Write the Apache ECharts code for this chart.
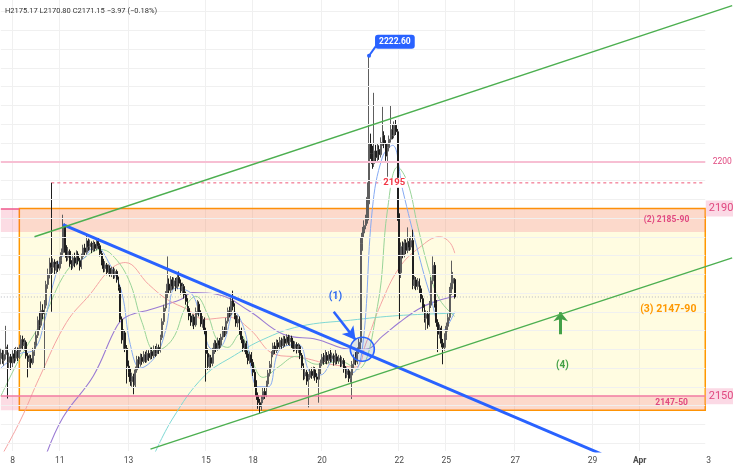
<!DOCTYPE html>
<html>
<head>
<meta charset="utf-8">
<script src="https://cdn.jsdelivr.net/npm/echarts@6.0.0/dist/echarts.min.js"></script>
<style>
html,body{margin:0;padding:0;background:#ffffff;}
#chart{width:733px;height:465px;}
</style>
</head>
<body>
<div id="chart"></div>
<script>
// ---------------- data ----------------
// hourly bars (UTC+7), index 0 = Thu 7 Mar 17:00
const tickBars   = [7, 35, 76, 122, 150, 191, 237, 265, 306, 352, 380, 421];
const tickLabels = ['8', '11', '13', '15', '18', '20', '22', '25', '27', '29', 'Apr', '3'];

// [open, close, low, high]
const candles = [
[2158.0,2159.2,2156.8,2160.1],[2159.2,2157.6,2156.9,2160.0],[2157.6,2158.9,2156.5,2159.8],[2158.9,2160.5,2157.8,2165.0],[2160.5,2157.2,2149.5,2161.0],
[2157.2,2158.4,2155.9,2159.3],[2158.4,2157.1,2155.6,2159.0],[2157.1,2159.0,2156.2,2159.8],[2159.0,2158.1,2157.0,2160.2],[2158.1,2159.6,2157.4,2160.5],
[2159.6,2158.3,2157.5,2160.4],[2158.3,2160.2,2157.9,2161.0],[2160.2,2162.1,2159.5,2163.0],[2162.1,2160.8,2159.9,2162.9],[2160.8,2161.5,2159.7,2162.4],
[2161.5,2158.6,2158.0,2161.9],[2158.6,2157.4,2154.0,2159.2],[2157.4,2158.0,2156.1,2158.9],[2158.0,2157.1,2155.8,2158.8],[2157.1,2159.5,2156.7,2160.3],
[2159.5,2160.8,2158.6,2161.6],[2160.8,2163.0,2160.1,2163.8],[2163.0,2166.2,2162.4,2167.0],[2166.2,2165.1,2163.9,2168.0],[2165.1,2168.3,2164.6,2170.2],
[2168.3,2167.6,2166.4,2169.6],[2167.6,2169.4,2155.7,2170.5],[2169.4,2173.8,2168.7,2174.6],[2173.8,2176.0,2172.9,2177.2],[2176.0,2178.4,2175.1,2179.5],
[2178.4,2177.5,2168.0,2195.5],[2177.5,2178.6,2176.3,2179.4],[2178.6,2176.9,2176.0,2179.2],[2176.9,2178.1,2176.2,2178.8],[2178.1,2177.3,2176.5,2178.9],
[2177.3,2178.9,2176.8,2179.7],[2178.9,2180.6,2178.2,2181.5],[2180.6,2186.2,2180.1,2188.7],[2186.2,2181.4,2180.6,2186.8],[2181.4,2179.6,2178.7,2182.2],
[2179.6,2180.9,2178.9,2181.8],[2180.9,2178.2,2177.6,2181.3],[2178.2,2177.8,2176.9,2179.0],[2177.8,2179.5,2177.2,2180.2],[2179.5,2178.4,2177.5,2180.6],
[2178.4,2180.3,2177.9,2181.1],[2180.3,2178.9,2178.1,2180.9],[2178.9,2177.6,2176.8,2179.5],[2177.6,2179.8,2177.1,2180.4],[2179.8,2181.6,2179.2,2182.3],
[2181.6,2180.7,2179.9,2182.5],[2180.7,2183.1,2180.2,2184.5],[2183.1,2181.9,2181.0,2183.6],[2181.9,2182.6,2181.2,2183.4],[2182.6,2181.2,2180.5,2183.0],
[2181.2,2182.4,2180.8,2183.2],[2182.4,2181.5,2180.9,2182.9],[2181.5,2183.0,2181.1,2183.7],[2183.0,2182.1,2181.4,2183.9],[2182.1,2180.4,2179.8,2182.6],
[2180.4,2178.6,2177.9,2181.0],[2178.6,2177.2,2176.4,2179.3],[2177.2,2178.0,2176.5,2178.8],[2178.0,2176.4,2175.8,2178.4],[2176.4,2177.3,2175.9,2178.1],
[2177.3,2176.1,2175.5,2177.9],[2176.1,2177.0,2175.4,2177.6],[2177.0,2175.8,2175.0,2177.5],[2175.8,2176.6,2175.1,2177.2],[2176.6,2174.9,2174.2,2177.0],
[2174.9,2173.2,2172.5,2175.5],[2173.2,2166.4,2165.8,2173.8],[2166.4,2162.0,2161.2,2167.0],[2162.0,2163.5,2160.1,2164.3],[2163.5,2160.2,2159.4,2164.0],
[2160.2,2156.4,2152.7,2160.9],[2156.4,2155.0,2154.1,2157.6],[2155.0,2153.1,2152.2,2155.8],[2153.1,2154.2,2152.0,2155.0],[2154.2,2152.4,2150.4,2154.8],
[2152.4,2155.6,2151.9,2156.3],[2155.6,2157.8,2155.0,2158.6],[2157.8,2156.9,2156.0,2158.5],[2156.9,2158.3,2156.3,2159.1],[2158.3,2157.4,2156.7,2159.0],
[2157.4,2158.9,2157.0,2159.6],[2158.9,2157.7,2157.1,2159.5],[2157.7,2159.1,2157.2,2159.9],[2159.1,2158.2,2157.5,2159.8],[2158.2,2159.5,2157.8,2160.3],
[2159.5,2158.6,2157.9,2160.4],[2158.6,2160.0,2158.1,2160.8],[2160.0,2159.1,2158.4,2160.7],[2159.1,2160.4,2158.6,2161.2],[2160.4,2159.8,2159.0,2161.0],
[2159.8,2162.5,2159.3,2163.1],[2162.5,2165.9,2162.0,2166.6],[2165.9,2168.8,2165.2,2169.5],[2168.8,2171.6,2168.1,2172.4],[2171.6,2173.9,2170.9,2179.8],
[2173.9,2172.6,2171.8,2175.1],[2172.6,2174.8,2172.0,2175.6],[2174.8,2173.5,2172.7,2175.4],[2173.5,2174.6,2172.9,2175.3],[2174.6,2173.2,2172.4,2175.2],
[2173.2,2175.3,2172.8,2176.0],[2175.3,2174.1,2173.4,2176.6],[2174.1,2172.5,2171.7,2174.9],[2172.5,2173.4,2171.9,2174.2],[2173.4,2171.6,2170.8,2173.9],
[2171.6,2170.2,2169.5,2172.3],[2170.2,2168.7,2168.0,2170.9],[2168.7,2167.1,2166.2,2169.2],[2167.1,2165.8,2165.0,2167.8],[2165.8,2166.9,2164.9,2167.5],
[2166.9,2165.2,2164.3,2167.4],[2165.2,2168.0,2164.8,2168.9],[2168.0,2169.6,2167.4,2170.5],[2169.6,2167.8,2167.0,2170.2],[2167.8,2165.4,2164.8,2168.3],
[2165.4,2166.3,2164.6,2167.1],[2166.3,2164.0,2163.2,2166.8],[2164.0,2159.1,2153.1,2164.6],[2159.1,2156.4,2155.6,2160.2],[2156.4,2158.2,2155.7,2158.9],
[2158.2,2157.0,2156.1,2158.8],[2157.0,2159.6,2156.4,2160.3],[2159.6,2161.3,2159.0,2162.0],[2161.3,2160.2,2159.4,2161.9],[2160.2,2161.8,2159.7,2162.5],
[2161.8,2160.9,2160.1,2162.4],[2160.9,2162.6,2160.3,2163.3],[2162.6,2164.1,2162.0,2164.9],[2164.1,2163.3,2162.6,2164.8],[2163.3,2166.0,2162.9,2166.7],
[2166.0,2168.2,2165.5,2168.9],[2168.2,2167.4,2166.8,2169.1],[2167.4,2170.3,2167.0,2171.0],[2170.3,2169.1,2168.3,2172.5],[2169.1,2167.2,2166.4,2169.8],
[2167.2,2165.6,2164.8,2167.9],[2165.6,2166.4,2164.7,2167.2],[2166.4,2163.9,2163.1,2167.0],[2163.9,2162.1,2161.3,2164.6],[2162.1,2160.3,2159.5,2162.8],
[2160.3,2161.2,2159.4,2161.9],[2161.2,2159.0,2158.2,2161.8],[2159.0,2157.6,2156.8,2159.7],[2157.6,2158.8,2156.9,2159.5],[2158.8,2157.2,2156.4,2159.4],
[2157.2,2155.1,2154.3,2157.9],[2155.1,2152.8,2151.9,2155.7],[2152.8,2150.1,2149.2,2153.4],[2150.1,2148.6,2147.3,2150.8],[2148.6,2147.8,2146.2,2149.4],
[2147.8,2149.3,2146.9,2150.1],[2149.3,2151.0,2148.5,2151.8],[2151.0,2150.2,2149.4,2151.9],[2150.2,2152.6,2149.8,2153.3],[2152.6,2154.9,2152.0,2155.6],
[2154.9,2156.8,2154.2,2157.5],[2156.8,2158.9,2156.1,2159.6],[2158.9,2160.7,2158.3,2161.4],[2160.7,2159.8,2159.0,2161.5],[2159.8,2161.4,2159.2,2162.1],
[2161.4,2160.5,2159.7,2162.0],[2160.5,2161.9,2159.9,2162.6],[2161.9,2160.8,2160.1,2162.5],[2160.8,2162.2,2160.3,2162.9],[2162.2,2161.3,2160.6,2162.8],
[2161.3,2162.6,2160.8,2163.2],[2162.6,2161.6,2160.9,2163.1],[2161.6,2162.4,2160.7,2163.0],[2162.4,2161.1,2160.3,2162.9],[2161.1,2160.2,2159.5,2161.8],
[2160.2,2161.0,2159.6,2161.7],[2161.0,2159.9,2159.1,2161.5],[2159.9,2160.6,2159.2,2161.3],[2160.6,2158.7,2157.9,2161.0],[2158.7,2156.5,2155.7,2159.2],
[2156.5,2154.3,2153.4,2157.0],[2154.3,2155.1,2153.6,2155.9],[2155.1,2153.2,2152.4,2155.6],[2153.2,2154.0,2147.6,2154.7],[2154.0,2155.3,2153.5,2156.0],
[2155.3,2154.4,2153.7,2156.1],[2154.4,2155.6,2153.8,2156.3],[2155.6,2154.1,2153.3,2156.2],[2154.1,2153.6,2152.8,2154.9],[2153.6,2155.2,2148.6,2155.9],
[2155.2,2157.0,2154.7,2157.8],[2157.0,2158.3,2156.4,2159.0],[2158.3,2157.4,2156.7,2159.2],[2157.4,2158.7,2156.9,2160.0],[2158.7,2157.6,2156.8,2159.4],
[2157.6,2158.9,2157.0,2159.6],[2158.9,2158.0,2157.2,2160.1],[2158.0,2158.6,2157.3,2159.3],[2158.6,2157.3,2156.5,2159.1],[2157.3,2158.4,2156.7,2160.0],
[2158.4,2157.5,2156.8,2159.1],[2157.5,2158.1,2156.9,2158.8],[2158.1,2156.9,2156.2,2158.7],[2156.9,2157.6,2156.3,2158.4],[2157.6,2155.8,2155.0,2158.1],
[2155.8,2154.6,2153.8,2156.4],[2154.6,2155.4,2153.9,2156.1],[2155.4,2153.8,2153.0,2156.0],[2153.8,2154.5,2152.9,2155.2],[2154.5,2156.8,2149.4,2157.5],
[2156.8,2158.2,2156.0,2158.9],[2158.2,2157.3,2156.6,2159.4],[2157.3,2159.6,2156.8,2160.4],[2159.6,2161.5,2159.0,2162.3],[2161.5,2182.6,2159.8,2183.9],
[2182.6,2184.8,2181.0,2186.1],[2184.8,2186.4,2183.9,2187.5],[2186.4,2187.7,2185.6,2188.7],[2187.7,2192.4,2186.8,2195.6],[2191.0,2203.9,2187.5,2222.6],
[2203.9,2201.8,2200.6,2206.0],[2201.8,2199.6,2198.5,2203.4],[2199.6,2202.3,2198.9,2214.7],[2202.3,2200.9,2199.8,2203.6],[2200.9,2202.6,2200.1,2204.0],
[2202.6,2201.5,2200.4,2203.5],[2201.5,2204.1,2200.9,2205.2],[2204.1,2205.6,2203.4,2211.7],[2205.6,2203.8,2202.9,2206.5],[2203.8,2201.2,2200.2,2204.6],
[2201.2,2203.0,2196.8,2203.9],[2203.0,2204.8,2202.2,2205.6],[2204.8,2206.9,2204.1,2212.1],[2206.9,2205.6,2204.8,2208.0],[2205.6,2207.8,2205.0,2208.6],
[2207.8,2206.4,2205.7,2208.9],[2206.4,2188.2,2187.4,2207.0],[2188.2,2176.3,2166.4,2189.0],[2176.3,2181.9,2175.2,2182.8],[2181.9,2180.2,2179.4,2183.0],
[2180.2,2182.7,2179.6,2183.5],[2182.7,2181.1,2180.3,2183.4],[2181.1,2183.0,2180.5,2186.0],[2183.0,2181.8,2181.0,2183.7],[2181.8,2183.2,2181.2,2184.1],
[2183.2,2173.6,2172.8,2185.5],[2173.6,2174.8,2172.9,2175.6],[2174.8,2173.4,2172.6,2175.4],[2173.4,2174.5,2172.7,2175.2],[2174.5,2172.9,2172.0,2175.1],
[2172.9,2170.8,2170.0,2173.6],[2170.8,2168.9,2168.0,2171.5],[2168.9,2166.6,2165.7,2169.6],[2166.6,2167.5,2163.9,2168.3],[2167.5,2165.2,2164.4,2168.1],
[2165.2,2169.4,2164.8,2170.3],[2169.4,2174.6,2168.8,2175.4],[2174.6,2177.9,2173.9,2179.8],[2177.9,2169.8,2168.9,2178.6],[2169.8,2165.7,2164.8,2170.5],
[2165.7,2163.2,2159.4,2166.4],[2163.2,2164.5,2162.3,2165.3],[2164.5,2161.3,2160.4,2165.0],[2161.3,2160.4,2156.8,2162.2],[2160.4,2162.6,2159.7,2163.4],
[2162.6,2164.9,2162.0,2165.7],[2164.9,2166.8,2163.8,2167.6],[2166.8,2172.4,2166.1,2173.3],[2172.4,2174.1,2171.6,2178.9],[2174.1,2175.12,2172.8,2176.5],
[2174.9,2171.15,2170.80,2175.17]
];

// moving averages: [bar, price]
const maTeal = [[90,2136.6],[102,2145.1],[121,2154.3],[139,2158.7],[156,2162.1],[178,2164.9],[208,2166.2],[237,2167.2],[270,2167.7]];
const maPurple = [[26,2136.6],[37,2145.5],[55,2154.3],[69,2164.9],[75,2167.0],[89,2168.5],[107,2170.6],[114,2172.1],[129,2171.7],[148,2168.1],[168,2163.2],[188,2162.1],[208,2160.0],[217,2160.0],[227,2162.8],[237,2165.7],[248,2168.5],[257,2170.0],[270,2171.3]];
const maPink = [[0,2137.0],[12,2145.1],[23,2154.0],[39,2165.7],[53,2171.7],[65,2177.0],[74,2178.5],[88,2173.8],[99,2170.6],[111,2168.5],[121,2166.4],[136,2166.8],[148,2164.3],[163,2158.9],[178,2158.3],[196,2156.8],[211,2156.2],[217,2161.1],[226,2169.6],[237,2177.4],[249,2181.7],[261,2184.0],[267,2182.8],[270,2180.5]];
const maGreen = [[0,2150.0],[11,2157.9],[25,2166.4],[39,2176.6],[50,2179.6],[59,2181.3],[66,2180.2],[76,2174.9],[84,2165.7],[92,2159.6],[102,2162.1],[110,2169.1],[116,2171.3],[123,2167.4],[129,2161.7],[135,2160.4],[142,2163.2],[149,2157.9],[156,2154.0],[165,2156.2],[176,2158.5],[188,2156.8],[202,2157.4],[212,2155.7],[224,2169.1],[230,2189.8],[236,2198.9],[242,2195.5],[248,2186.2],[255,2176.4],[261,2170.6],[270,2167.0]];
const maBlue = [[0,2156.0],[11,2159.0],[20,2160.0],[26,2166.0],[32,2175.0],[38,2180.0],[47,2179.0],[56,2182.0],[65,2178.0],[72,2172.0],[77,2161.0],[83,2156.0],[92,2158.5],[98,2164.0],[104,2173.0],[113,2172.0],[118,2168.0],[126,2160.0],[132,2161.0],[139,2168.0],[145,2164.0],[153,2152.0],[159,2152.0],[166,2160.0],[177,2161.0],[184,2155.0],[190,2154.5],[199,2158.0],[209,2155.0],[215,2160.0],[221,2190.0],[227,2201.0],[233,2203.5],[239,2194.0],[248,2181.0],[255,2172.0],[263,2164.0],[270,2168.0]];

// drawn trend lines: [bar, price]
const trendBlue = [[37,2186.6],[357,2137.7]];
const channelUpper = [[20,2184.0],[435,2233.3]];
const channelLower = [[89,2138.7],[435,2179.5]];

// horizontal levels / zones (prices)
const gridPrices = [2140,2144,2148,2152,2156,2160,2164,2168,2172,2176,2180,2184,2188,2192,2196,2200,2204,2208,2212,2216,2220,2224,2228,2232];
const level2200 = 2200;
const level2195 = 2195.5;
const lastClose = 2171.15;
const zone2 = [2185, 2190];
const zone3 = [2147, 2190];
const zone50 = [2147, 2150];
const spikeHigh = [219, 2222.6];
const calloutCorner = [223, 2224.6];

// annotations [bar, price]
const circlePt = [215, 2160.0];
const arrowBlue = [[198, 2168.0], [211, 2162.0]];
const arrowGreen = [[333, 2163.2], [333, 2167.9]];
const label1 = [199, 2171.3];
const label4 = [334, 2156.6];
const label2 = [396, 2187.6];
const label3 = [397, 2168.5];
const label50 = [399, 2148.5];
const label2195 = [234, 2195.5];

// ---------------- chart ----------------
const FONT = 'Roboto, "Noto Sans", "DejaVu Sans", sans-serif';
const N = 436;              // category slots across the full width
const LEFT = 0, RIGHT = 419, ZONE3_LEFT = 11, LEVEL2195_START = 30;
const categories = Array.from({length: N}, (_, i) => 'b' + i);
const isTick = i => tickBars.indexOf(i) >= 0;

function seg(a, b, style) { return [{coord: a, lineStyle: style}, {coord: b}]; }

const gridLineData = gridPrices.map(p => seg([LEFT, p], [RIGHT, p], {color: '#f0f0f0', width: 1, type: 'solid'}));

const pinkText = '#e0487f';
const hidden = {color: 'rgba(0,0,0,0)'};

const option = {
  animation: false,
  backgroundColor: '#ffffff',
  textStyle: {fontFamily: FONT},
  title: {
    text: 'H2175.17 L2170.80 C2171.15 \u22123.97 (\u22120.18%)',
    left: 0, top: 2,
    textStyle: {fontSize: 7.5, fontWeight: 'normal', color: '#333', fontFamily: FONT}
  },
  grid: {left: 0, right: 0, top: 0, bottom: 13, containLabel: false},
  xAxis: {
    type: 'category', data: categories, boundaryGap: true,
    axisLine: {show: false}, axisTick: {show: false},
    axisLabel: {
      interval: (i) => isTick(i), margin: 5, color: '#4a4a4a', fontSize: 8.5, fontFamily: FONT,
      formatter: (v) => { const i = +String(v).slice(1); const k = tickBars.indexOf(i); if (k < 0) return ''; const t = tickLabels[k]; return t === 'Apr' ? '{b|Apr}' : t; },
      rich: {b: {fontWeight: 'bold', fontSize: 8.5, color: '#4a4a4a', fontFamily: FONT}}
    },
    splitLine: {show: true, interval: (i) => isTick(i) && i < RIGHT, lineStyle: {color: '#f0f0f0', width: 1}}
  },
  yAxis: {type: 'value', min: 2138.3, max: 2234.5, show: false},
  series: [
    { // grid lines
      type: 'line', data: [], silent: true, z: 0,
      markLine: {silent: true, symbol: ['none', 'none'], label: {show: false}, animation: false, data: gridLineData}
    },
    { // zones
      type: 'line', data: [], silent: true, z: 1,
      markArea: {
        silent: true, animation: false,
        data: [
          [{xAxis: ZONE3_LEFT, yAxis: zone3[0], itemStyle: {color: 'rgba(255,236,80,0.17)', borderColor: '#ff9800', borderWidth: 1.5}}, {xAxis: RIGHT, yAxis: zone3[1]}],
          [{xAxis: LEFT, yAxis: zone2[0], itemStyle: {color: 'rgba(240,70,110,0.19)', borderWidth: 0}}, {xAxis: RIGHT, yAxis: zone2[1]}],
          [{xAxis: LEFT, yAxis: zone50[0], itemStyle: {color: 'rgba(240,70,110,0.19)', borderWidth: 0}}, {xAxis: RIGHT, yAxis: zone50[1]}]
        ]
      }
    },
    { // solid levels
      type: 'line', data: [], silent: true, z: 2,
      markLine: {
        silent: true, symbol: ['none', 'none'], label: {show: false}, animation: false,
        data: [
          seg([LEFT, level2200], [RIGHT, level2200], {color: '#f7bfd3', width: 2, type: 'solid'}),
          seg([LEFT, zone2[1]], [ZONE3_LEFT, zone2[1]], {color: '#ef5b8f', width: 1.5, type: 'solid'}),
          seg([LEFT, zone50[1]], [RIGHT, zone50[1]], {color: '#f27aa2', width: 1.5, type: 'solid'})
        ]
      }
    },
    { // dashed 2195 level
      type: 'line', data: [[LEVEL2195_START, level2195], [RIGHT, level2195]], showSymbol: false, silent: true, z: 2,
      lineStyle: {color: '#f2758f', width: 1.2, type: [3, 3]}
    },
    { // dotted last price
      type: 'line', data: [[LEFT, lastClose], [RIGHT, lastClose]], showSymbol: false, silent: true, z: 2,
      lineStyle: {color: '#b4b6bd', width: 1, type: [1, 2]}
    },
    {type: 'line', data: maTeal, smooth: 0.4, showSymbol: false, silent: true, z: 3, lineStyle: {color: '#7fd8d4', width: 1}},
    {type: 'line', data: maPurple, smooth: 0.4, showSymbol: false, silent: true, z: 3, lineStyle: {color: '#9a7bd4', width: 1.1}},
    {type: 'line', data: maPink, smooth: 0.4, showSymbol: false, silent: true, z: 3, lineStyle: {color: '#f4a3a3', width: 1}},
    {type: 'line', data: maGreen, smooth: 0.4, showSymbol: false, silent: true, z: 3, lineStyle: {color: '#98d398', width: 1}},
    {type: 'line', data: maBlue, smooth: 0.4, showSymbol: false, silent: true, z: 3, lineStyle: {color: '#86aaf3', width: 1}},
    {
      type: 'candlestick', data: candles, z: 4, silent: true, barWidth: '80%',
      itemStyle: {color: '#8c8c8c', color0: '#141414', borderColor: '#5e5e5e', borderColor0: '#1e1e1e', borderWidth: 1}
    },
    {type: 'line', data: trendBlue, showSymbol: false, silent: true, z: 5, lineStyle: {color: '#2962ff', width: 3}},
    {type: 'line', data: channelUpper, showSymbol: false, silent: true, z: 5, lineStyle: {color: '#4caf50', width: 1.4}},
    {type: 'line', data: channelLower, showSymbol: false, silent: true, z: 5, lineStyle: {color: '#4caf50', width: 1.4}},
    { // annotations
      type: 'line', data: [], silent: true, z: 6,
      markLine: {
        silent: true, animation: false, label: {show: false}, symbol: ['none', 'none'],
        data: [
          [{coord: arrowBlue[0], symbol: 'none', lineStyle: {color: '#2962ff', width: 2.5, type: 'solid'}}, {coord: arrowBlue[1], symbol: 'arrow', symbolSize: [11, 13]}],
          [{coord: arrowGreen[0], symbol: 'none', lineStyle: {color: '#43a047', width: 3, type: 'solid'}}, {coord: arrowGreen[1], symbol: 'arrow', symbolSize: [11, 9]}],
          [{coord: spikeHigh, symbol: 'none', lineStyle: {color: '#2962ff', width: 2, type: 'solid'}}, {coord: calloutCorner, symbol: 'none'}]
        ]
      },
      markPoint: {
        silent: true, animation: false,
        data: [
          {coord: circlePt, symbol: 'circle', symbolSize: 24, itemStyle: {color: 'rgba(41,98,255,0.14)', borderColor: '#2962ff', borderWidth: 1.6}, label: {show: false}},
          {coord: spikeHigh, symbol: 'circle', symbolSize: 4, itemStyle: {color: '#2962ff'},
           label: {show: true, formatter: '2222.60', position: [8, -19], color: '#fff', fontSize: 8.5, fontWeight: 'bold', backgroundColor: '#2962ff', padding: [3, 4, 2, 4], borderRadius: 3, fontFamily: FONT}},
          {coord: label1, symbol: 'circle', symbolSize: 1, itemStyle: hidden, label: {show: true, formatter: '(1)', color: '#2f6bf0', fontSize: 10.5, fontWeight: 'bold', fontFamily: FONT}},
          {coord: label4, symbol: 'circle', symbolSize: 1, itemStyle: hidden, label: {show: true, formatter: '(4)', color: '#43a047', fontSize: 10, fontWeight: 'bold', fontFamily: FONT}},
          {coord: label2, symbol: 'circle', symbolSize: 1, itemStyle: hidden, label: {show: true, formatter: '(2) 2185-90', color: pinkText, fontSize: 8.5, fontWeight: 'bold', fontFamily: FONT}},
          {coord: label3, symbol: 'circle', symbolSize: 1, itemStyle: hidden, label: {show: true, formatter: '(3) 2147-90', color: '#ff9800', fontSize: 10.5, fontWeight: 'bold', fontFamily: FONT}},
          {coord: label50, symbol: 'circle', symbolSize: 1, itemStyle: hidden, label: {show: true, formatter: '2147-50', color: pinkText, fontSize: 8.5, fontWeight: 'bold', fontFamily: FONT}},
          {coord: label2195, symbol: 'circle', symbolSize: 1, itemStyle: hidden, label: {show: true, formatter: '2195', color: '#f23645', fontSize: 9.5, fontWeight: 'bold', backgroundColor: '#ffffff', padding: [0, 2], fontFamily: FONT}},
          {coord: [RIGHT, level2200], symbol: 'circle', symbolSize: 1, itemStyle: hidden, label: {show: true, position: 'right', distance: 7, formatter: '2200', color: pinkText, fontSize: 8.5, fontFamily: FONT}},
          {coord: [RIGHT, zone2[1]], symbol: 'circle', symbolSize: 1, itemStyle: hidden, label: {show: true, position: 'right', distance: 0, formatter: '2190', color: pinkText, fontSize: 11, backgroundColor: '#fbd9e5', padding: [3, 4, 2, 3], fontFamily: FONT}},
          {coord: [RIGHT, zone50[1]], symbol: 'circle', symbolSize: 1, itemStyle: hidden, label: {show: true, position: 'right', distance: 0, formatter: '2150', color: pinkText, fontSize: 11, backgroundColor: '#fbd9e5', padding: [3, 4, 2, 3], fontFamily: FONT}}
        ]
      }
    }
  ]
};

const chart = echarts.init(document.getElementById('chart'), null, {renderer: 'canvas'});
chart.setOption(option);
</script>
</body>
</html>
